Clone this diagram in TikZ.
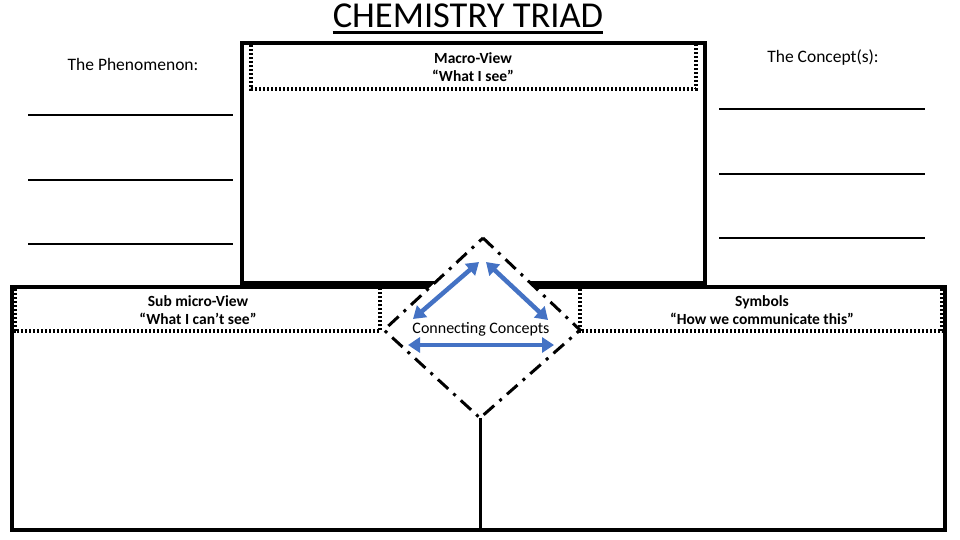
\documentclass[tikz,border=0pt]{standalone}
\usepackage{fontspec}
\setmainfont{Carlito}
\usetikzlibrary{arrows.meta}
\definecolor{arrowblue}{HTML}{4472C4}
\tikzset{
  frame/.style={draw=black, line width=3.5pt},
  dotline/.style={draw=black, line width=3.3pt, dash pattern=on 2.4pt off 1.6pt},
  dashdot/.style={draw=black, line width=3pt, dash pattern=on 14pt off 7pt on 3pt off 7pt},
  blank/.style={draw=black, line width=1.2pt},
  biarrow/.style={draw=arrowblue, line width=4.5pt, {Triangle[length=12pt,width=15pt]}-{Triangle[length=12pt,width=15pt]}},
  head/.style={font=\fontsize{15.5}{18}\selectfont\bfseries, align=center, inner sep=0pt},
  label/.style={font=\fontsize{17.5}{20}\selectfont, inner sep=0pt},
}
\begin{document}
\begin{tikzpicture}[x=1pt,y=-1pt]
\useasboundingbox (0,0) rectangle (960,540);
% title
\node[font=\fontsize{36.5}{40}\selectfont, inner sep=0pt, anchor=base] (title) at (468,28) {CHEMISTRY TRIAD};
\coordinate (ul) at (0,32.5);
\draw[line width=2.5pt] (title.west |- ul) -- (title.east |- ul);
% bottom frame and top frame
\draw[frame] (12,287) rectangle (945,530);
\draw[frame, fill=white] (242,43) rectangle (705,283);
% dotted headers
\draw[dotline] (251,45) -- (251,89) -- (696,89) -- (696,45);
\draw[dotline] (15,289) -- (15,331) -- (380,331) -- (380,289);
\draw[dotline] (580,289) -- (580,331) -- (942,331) -- (942,289);
% header texts
\node[head] (macro) at (473,67) {Macro-View\\“What I see”};
\node[head] (micro) at (198,310) {Sub micro-View\\“What I can’t see”};
\node[head] (symb) at (762,310) {Symbols\\“How we communicate this”};
% side labels and blanks
\node[label] (phen) at (133,64) {The Phenomenon:};
\node[label] (conc) at (823,58) {The Concept(s):};
\foreach \y in {115,180,244} \draw[blank] (28,\y) -- (233,\y);
\foreach \y in {109,174,238} \draw[blank] (719,\y) -- (925,\y);
% diamond
\coordinate (dT) at (483,238);
\coordinate (dR) at (580,330);
\coordinate (dB) at (480,418);
\coordinate (dL) at (384,330);
\draw[dashdot, fill=white] (dT) -- (dR) -- (dB) -- (dL) -- cycle;
\coordinate (divB) at (480,530);
\draw[draw=black, line width=3pt] (dB) -- (divB);
% arrows
\coordinate (a1) at (479,262);
\coordinate (a2) at (413,319);
\coordinate (b1) at (486,262);
\coordinate (b2) at (548,320);
\coordinate (c1) at (408,345);
\coordinate (c2) at (554,345);
\draw[biarrow] (a1) -- (a2);
\draw[biarrow] (b1) -- (b2);
\draw[biarrow] (c1) -- (c2);
\node[font=\fontsize{16}{18}\selectfont, inner sep=0pt] (cc) at (481,329) {Connecting Concepts};
\end{tikzpicture}
\end{document}
